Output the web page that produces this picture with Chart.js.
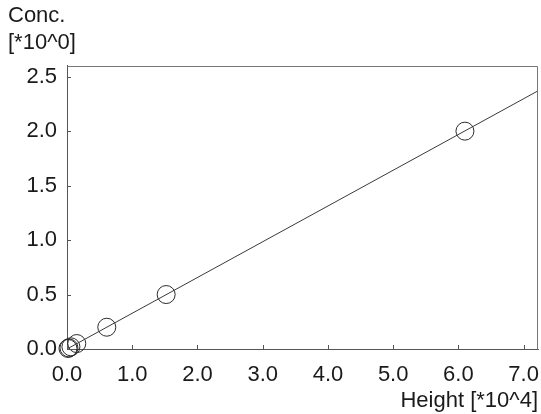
<!DOCTYPE html>
<html>
<head>
<meta charset="utf-8">
<title>Calibration curve</title>
<script src="https://cdn.jsdelivr.net/npm/chart.js@4/dist/chart.umd.min.js"></script>
<style>
  html, body { margin: 0; padding: 0; background: #ffffff; }
  #wrap { width: 541px; height: 414px; position: relative; }
</style>
</head>
<body>
<div id="wrap"><canvas id="cal"></canvas></div>
<script>
// Calibration standards: peak height (x 10^4) against concentration (x 10^0)
const peakHeights = [0.015, 0.03, 0.06, 0.15, 0.61, 1.52, 6.10];
const concentrations = [0.005, 0.01, 0.02, 0.05, 0.2, 0.5, 2.0];

// Fitted calibration line, end points
const fitHeights = [0, 7.22];
const fitConcs = [0, 2.37];

// Axis tick values
const xTickValues = [0, 1, 2, 3, 4, 5, 6, 7];
const yTickValues = [0, 0.5, 1.0, 1.5, 2.0, 2.5];

const FONT = 'Arial, "Liberation Sans", sans-serif';
const TEXT = '#1a1a1a';

// Short tick marks pointing into the plot, plus the closing frame
const innerTicks = {
  id: 'innerTicks',
  afterDraw(chart) {
    const { ctx, chartArea: a, scales: { x, y } } = chart;
    ctx.save();
    ctx.strokeStyle = '#555';
    ctx.lineWidth = 1;
    ctx.beginPath();
    x.ticks.forEach(t => {
      const px = Math.round(x.getPixelForValue(t.value)) + 0.5;
      ctx.moveTo(px, a.bottom);
      ctx.lineTo(px, a.bottom - 4);
    });
    y.ticks.forEach(t => {
      const py = Math.round(y.getPixelForValue(t.value)) + 0.5;
      ctx.moveTo(a.left, py);
      ctx.lineTo(a.left + 4, py);
    });
    ctx.stroke();
    ctx.strokeStyle = '#777';
    ctx.beginPath();
    ctx.moveTo(Math.round(a.left) + 0.5, Math.round(a.top) + 0.5);
    ctx.lineTo(Math.round(a.right) - 0.5, Math.round(a.top) + 0.5);
    ctx.lineTo(Math.round(a.right) - 0.5, Math.round(a.bottom) + 0.5);
    ctx.stroke();
    ctx.restore();
  }
};

new Chart(document.getElementById('cal'), {
  type: 'scatter',
  data: {
    datasets: [
      {
        label: 'Fit',
        type: 'line',
        data: fitHeights.map((h, i) => ({ x: h, y: fitConcs[i] })),
        borderColor: '#3a3a3a',
        borderWidth: 1,
        pointRadius: 0,
        fill: false,
        tension: 0
      },
      {
        label: 'Standards',
        data: peakHeights.map((h, i) => ({ x: h, y: concentrations[i] })),
        pointRadius: 9,
        pointBorderWidth: 1,
        pointBorderColor: '#2a2a2a',
        pointBackgroundColor: 'rgba(0,0,0,0)',
        clip: false
      }
    ]
  },
  options: {
    responsive: true,
    maintainAspectRatio: false,
    animation: false,
    layout: { autoPadding: false, padding: { left: 8, right: 3, top: 0, bottom: 0 } },
    plugins: {
      legend: { display: false },
      tooltip: { enabled: false },
      title: {
        display: true,
        align: 'start',
        text: ['Conc.', '[*10^0]'],
        color: TEXT,
        font: { family: FONT, size: 22, weight: 'normal', lineHeight: 1.2 },
        padding: { top: 3, bottom: 10 }
      }
    },
    scales: {
      x: {
        type: 'linear',
        min: 0,
        max: 7.22,
        afterBuildTicks: s => { s.ticks = xTickValues.map(v => ({ value: v })); },
        afterFit: s => { s.height = 65; s.paddingLeft = 0; s.paddingRight = 0; },
        grid: { display: true, drawOnChartArea: false, drawTicks: false },
        border: { display: true, color: '#555', width: 1 },
        ticks: {
          color: TEXT,
          padding: 13,
          maxRotation: 0,
          font: { family: FONT, size: 22 },
          callback: v => Number(v).toFixed(1)
        },
        title: {
          display: true,
          align: 'end',
          text: 'Height [*10^4]',
          color: TEXT,
          font: { family: FONT, size: 22 },
          padding: { top: 0, bottom: 0 }
        }
      },
      y: {
        type: 'linear',
        min: 0,
        max: 2.6,
        afterBuildTicks: s => { s.ticks = yTickValues.map(v => ({ value: v })); },
        afterFit: s => { s.width = 59; s.paddingTop = 0; s.paddingBottom = 0; },
        grid: { display: true, drawOnChartArea: false, drawTicks: false },
        border: { display: true, color: '#555', width: 1 },
        ticks: {
          color: TEXT,
          padding: 10,
          font: { family: FONT, size: 22 },
          callback: v => Number(v).toFixed(1)
        }
      }
    }
  },
  plugins: [innerTicks]
});
</script>
</body>
</html>
